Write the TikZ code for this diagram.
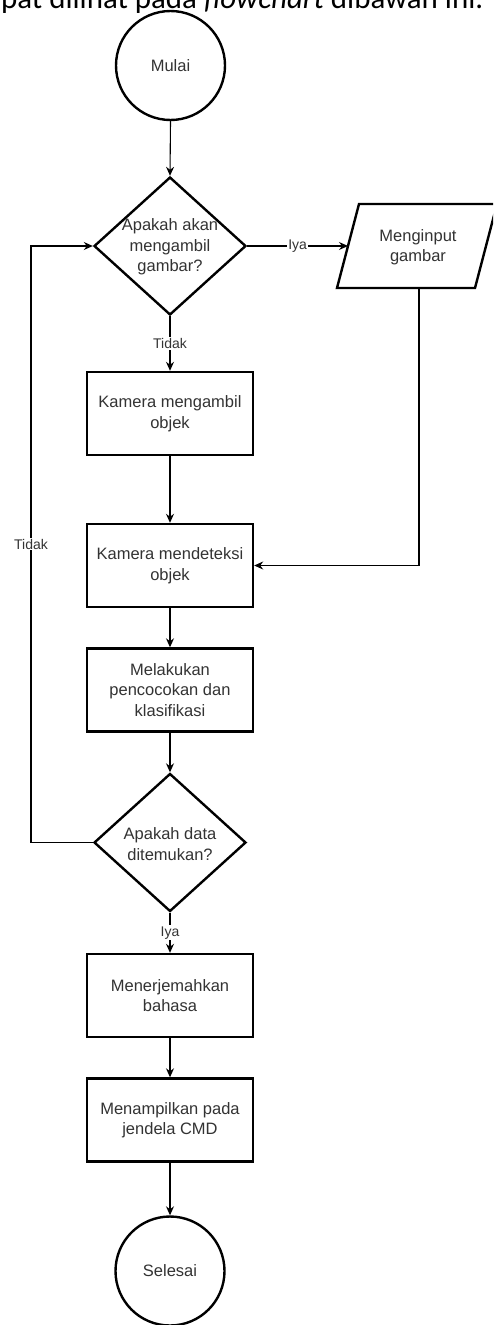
\documentclass[tikz,border=0pt]{standalone}
\usepackage{fontspec}
\setmainfont{Liberation Sans}
\newfontfamily\carlito{Carlito}
\usetikzlibrary{shapes.geometric,arrows.meta}
\definecolor{txt}{HTML}{333333}
\tikzset{
  mainf/.style={font=\fontsize{16.5}{20.5}\selectfont},
  procbox/.style={rectangle, draw=black, line width=2.4pt, minimum width=166pt, minimum height=83pt, align=center, text=txt, mainf, inner sep=2pt},
  termbox/.style={circle, draw=black, line width=2.4pt, minimum size=109pt, align=center, text=txt, mainf, inner sep=0pt},
  decbox/.style={diamond, draw=black, line width=2.4pt, minimum width=152pt, minimum height=138pt, inner sep=0pt},
  dectext/.style={align=center, text=txt, mainf, inner sep=0pt},
  conn/.style={-{Stealth[length=9pt,width=8pt,inset=3pt]}, line width=1.1pt, draw=black},
  lbl/.style={fill=white, text=txt, font=\fontsize{14}{16}\selectfont, inner sep=1pt}
}
\begin{document}
\begin{tikzpicture}[x=1pt,y=-1pt]
\useasboundingbox (0,0) rectangle (493,1325);
\clip (0,0) rectangle (493,1325);
\fill[white] (0,0) rectangle (493,1325);

% clipped header text
\node[anchor=base west, inner sep=0pt] (head) at (1,8.5)
  {\resizebox{482pt}{!}{\carlito pat dilihat pada \textit{flowchart} dibawah ini.}};

% nodes
\node[termbox] (mulai) at (170.5,65.5) {Mulai};
\node[decbox] (d1) at (170,246) {};
\node[dectext] (d1t) at (170,247) {Apakah akan\\mengambil\\gambar?};

% parallelogram (input)
\draw[line width=2.4pt, draw=black] (337,288) -- (475,288) -- (497,204) -- (359,204) -- cycle;
\node[dectext] (inp) at (418,247) {Menginput\\gambar};
\coordinate (inpL) at (348,246);
\coordinate (inpB) at (419,288);

\node[procbox] (b1) at (170,413.5) {Kamera mengambil\\objek};
\node[procbox] (b2) at (170,565.5) {Kamera mendeteksi\\objek};
\node[procbox] (b3) at (170,690) {Melakukan\\pencocokan dan\\klasifikasi};
\node[decbox] (d2) at (170,842.5) {};
\node[dectext] (d2t) at (170,844) {Apakah data\\ditemukan?};
\node[procbox] (b4) at (170,995.5) {Menerjemahkan\\bahasa};
\node[procbox] (b5) at (170,1120) {Menampilkan pada\\jendela CMD};
\node[termbox] (selesai) at (170,1271) {Selesai};

\coordinate (lp) at (31,842.5);

% connectors
\draw[conn] (mulai.south) -- (d1.north);
\draw[conn] (d1.east) -- node[lbl]{Iya} (inpL);
\draw[conn] (d1.south) -- node[lbl]{Tidak} (b1.north);
\draw[conn] (inpB) |- (b2.east);
\draw[conn] (b1.south) -- (b2.north);
\draw[conn] (b2.south) -- (b3.north);
\draw[conn] (b3.south) -- (d2.north);
\draw[line width=1.1pt] (d2.west) -- (lp);
\draw[conn] (lp) |- node[lbl,pos=0.25]{Tidak} (d1.west);
\draw[conn] (d2.south) -- node[lbl]{Iya} (b4.north);
\draw[conn] (b4.south) -- (b5.north);
\draw[conn] (b5.south) -- (selesai.north);
\end{tikzpicture}
\end{document}
